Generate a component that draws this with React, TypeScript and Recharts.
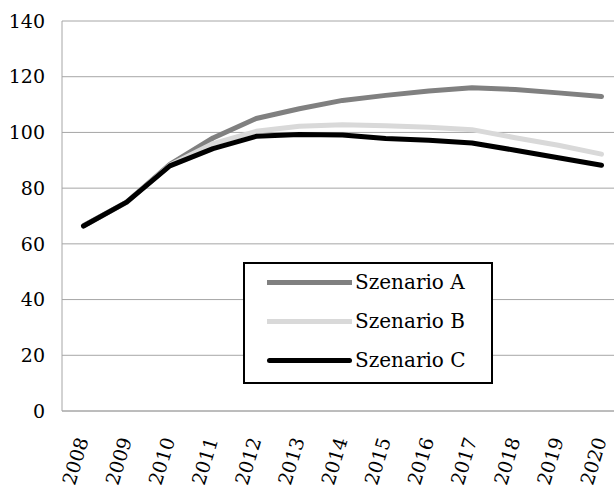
import { LineChart, Line, XAxis, YAxis, CartesianGrid } from "recharts";

const years = ["2008", "2009", "2010", "2011", "2012", "2013", "2014", "2015", "2016", "2017", "2018", "2019", "2020"];
const szenarioA = [66.5, 75, 88.5, 98, 105, 108.5, 111.5, 113.3, 114.9, 116, 115.4, 114.2, 112.9];
const szenarioB = [66.5, 75, 88.2, 96, 100.4, 102.2, 102.8, 102.4, 101.9, 101, 98.1, 95.4, 92.2];
const szenarioC = [66.4, 75, 88, 94.2, 98.6, 99.3, 99.1, 97.8, 97.2, 96.2, 93.6, 90.9, 88.2];
const yTicks = [0, 20, 40, 60, 80, 100, 120, 140];

const seriesNames = ["Szenario A", "Szenario B", "Szenario C"];
const seriesColors = ["#808080", "#d9d9d9", "#000000"];

const data = years.map((year, i) => ({
  year,
  a: szenarioA[i],
  b: szenarioB[i],
  c: szenarioC[i],
}));

const font = "'DejaVu Serif', serif";

function YearTick(props: any) {
  const { x, y, payload } = props;
  return (
    <text
      transform={`translate(${x - 1},${y + 25}) rotate(-73)`}
      textAnchor="end"
      dy="0.35em"
      fontFamily={font}
      fontSize={19}
      fill="#000"
    >
      {payload.value}
    </text>
  );
}

export default function App() {
  const keys = ["a", "b", "c"];
  return (
    <div
      style={{
        position: "fixed",
        left: 0,
        top: 0,
        width: 614,
        height: 487,
        overflow: "hidden",
        background: "#fff",
      }}
    >
      <LineChart
        width={640}
        height={487}
        data={data}
        margin={{ top: 21, right: 17, bottom: 0, left: 0 }}
      >
        <CartesianGrid vertical={false} stroke="#a6a6a6" />
        <XAxis
          dataKey="year"
          height={76}
          padding={{ left: 21.5, right: 21.5 }}
          tickLine={false}
          tickSize={0}
          axisLine={{ stroke: "#a6a6a6" }}
          tick={<YearTick />}
          interval={0}
        />
        <YAxis
          width={62}
          domain={[0, 140]}
          ticks={yTicks}
          tickLine={false}
          tickSize={0}
          tickMargin={17}
          axisLine={{ stroke: "#a6a6a6" }}
          tick={{ fill: "#000", fontSize: 19, fontFamily: font }}
        />
        {keys.map((k, i) => (
          <Line
            key={k}
            dataKey={k}
            name={seriesNames[i]}
            stroke={seriesColors[i]}
            strokeWidth={5}
            strokeLinecap="round"
            strokeLinejoin="round"
            dot={false}
            activeDot={false}
            isAnimationActive={false}
          />
        ))}
      </LineChart>
      <div
        style={{
          position: "absolute",
          left: 243,
          top: 262,
          width: 250,
          height: 122,
          boxSizing: "border-box",
          border: "2px solid #000",
          background: "#fff",
        }}
      >
        {seriesNames.map((name, i) => (
          <div
            key={name}
            style={{
              position: "absolute",
              left: 22,
              top: i * 39,
              height: 36,
              display: "flex",
              alignItems: "center",
              fontFamily: font,
              fontSize: 20,
              whiteSpace: "nowrap",
            }}
          >
            <span
              style={{
                display: "inline-block",
                width: 85,
                height: 5,
                background: seriesColors[i],
                borderRadius: i === 2 ? 3 : 0,
                marginRight: 3,
              }}
            />
            <span>{name}</span>
          </div>
        ))}
      </div>
    </div>
  );
}
